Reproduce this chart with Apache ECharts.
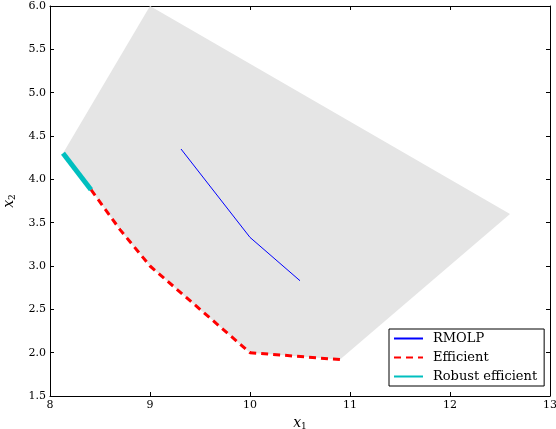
<!DOCTYPE html>
<html>
<head>
<meta charset="utf-8">
<script src="https://cdn.jsdelivr.net/npm/echarts@6/dist/echarts.min.js"></script>
<style>
html, body { margin: 0; padding: 0; background: #fff; }
#chart { width: 556px; height: 429px; }
</style>
</head>
<body>
<div id="chart"></div>
<script>
// feasible region (grey polygon)
const regionX = [9.0, 12.6, 10.9, 10.0, 9.0, 8.7, 8.41, 8.13]
const regionY = [6.0, 3.6, 1.92, 2.0, 3.0, 3.42, 3.88, 4.3]
// RMOLP path
const rmolpX = [9.31, 10.0, 10.5]
const rmolpY = [4.35, 3.33, 2.83]
// efficient frontier
const efficientX = [8.41, 8.7, 9.0, 10.0, 10.9]
const efficientY = [3.88, 3.42, 3.0, 2.0, 1.92]
// robust efficient part
const robustX = [8.13, 8.41]
const robustY = [4.3, 3.88]

const font = 'DejaVu Serif'
const pairs = (xs, ys) => xs.map((x, i) => [x, ys[i]])

const chart = echarts.init(document.getElementById('chart'))

const tickStyle = { inside: true, length: 4, lineStyle: { color: '#000', width: 1 } }
const baseAxis = {
    axisLine: { show: true, onZero: false, lineStyle: { color: '#000', width: 1 } },
    axisTick: tickStyle,
    splitLine: { show: false }
}
const nameRich = {
    i: { fontFamily: font, fontStyle: 'italic', fontSize: 14, color: '#000' },
    s: { fontFamily: font, fontSize: 9, color: '#000', padding: [8, 0, 0, 0] }
}

const option = {
    animation: false,
    backgroundColor: '#fff',
    grid: { left: 50, right: 6, top: 6, bottom: 33, outerBoundsMode: 'none', containLabel: false },
    legend: {
        data: ['RMOLP', 'Efficient', 'Robust efficient'],
        orient: 'vertical',
        left: 389,
        top: 329,
        padding: [3, 7, 3, 4],
        itemGap: 6,
        itemWidth: 29,
        itemHeight: 14,
        borderColor: '#000',
        borderWidth: 1,
        borderRadius: 0,
        backgroundColor: '#fff',
        itemStyle: { opacity: 0 },
        textStyle: { fontFamily: font, fontSize: 13, color: '#000', padding: [0, 0, 0, 5] }
    },
    xAxis: [
        Object.assign({}, baseAxis, {
            type: 'value', min: 8, max: 13, interval: 1, position: 'bottom',
            axisLabel: { fontFamily: font, fontSize: 11, color: '#000', margin: 4 },
            name: '{i|x}{s|1}',
            nameLocation: 'middle',
            nameGap: 16,
            nameTextStyle: { rich: nameRich }
        }),
        Object.assign({}, baseAxis, {
            type: 'value', min: 8, max: 13, interval: 1, position: 'top',
            axisLabel: { show: false }
        })
    ],
    yAxis: [
        Object.assign({}, baseAxis, {
            type: 'value', min: 1.5, max: 6, interval: 0.5, position: 'left',
            axisLabel: { fontFamily: font, fontSize: 11, color: '#000', margin: 4,
                formatter: v => v.toFixed(1) },
            name: '{i|x}{s|2}',
            nameLocation: 'middle',
            nameGap: 30,
            nameRotate: 90,
            nameTextStyle: { rich: nameRich }
        }),
        Object.assign({}, baseAxis, {
            type: 'value', min: 1.5, max: 6, interval: 0.5, position: 'right',
            axisLabel: { show: false }
        })
    ],
    series: [
        {
            name: 'region',
            type: 'custom',
            silent: true,
            data: pairs(regionX, regionY),
            encode: { x: 0, y: 1 },
            renderItem: function (params, api) {
                if (params.dataIndex !== 0) return null
                const pts = regionX.map((x, i) => api.coord([x, regionY[i]]))
                return { type: 'polygon', shape: { points: pts }, style: { fill: '#e5e5e5' } }
            },
            z: 1
        },
        {
            name: 'RMOLP',
            type: 'line',
            data: pairs(rmolpX, rmolpY),
            symbol: 'none',
            color: '#0000ff',
            lineStyle: { color: '#0000ff', width: 1 },
            z: 3
        },
        {
            name: 'Efficient',
            type: 'line',
            data: pairs(efficientX, efficientY),
            symbol: 'none',
            color: '#ff0000',
            lineStyle: { color: '#ff0000', width: 3, type: [7, 5] },
            z: 3
        },
        {
            name: 'Robust efficient',
            type: 'line',
            data: pairs(robustX, robustY),
            symbol: 'none',
            color: '#00bfbf',
            lineStyle: { color: '#00bfbf', width: 5 },
            z: 4
        }
    ]
}

chart.setOption(option)
</script>
</body>
</html>
